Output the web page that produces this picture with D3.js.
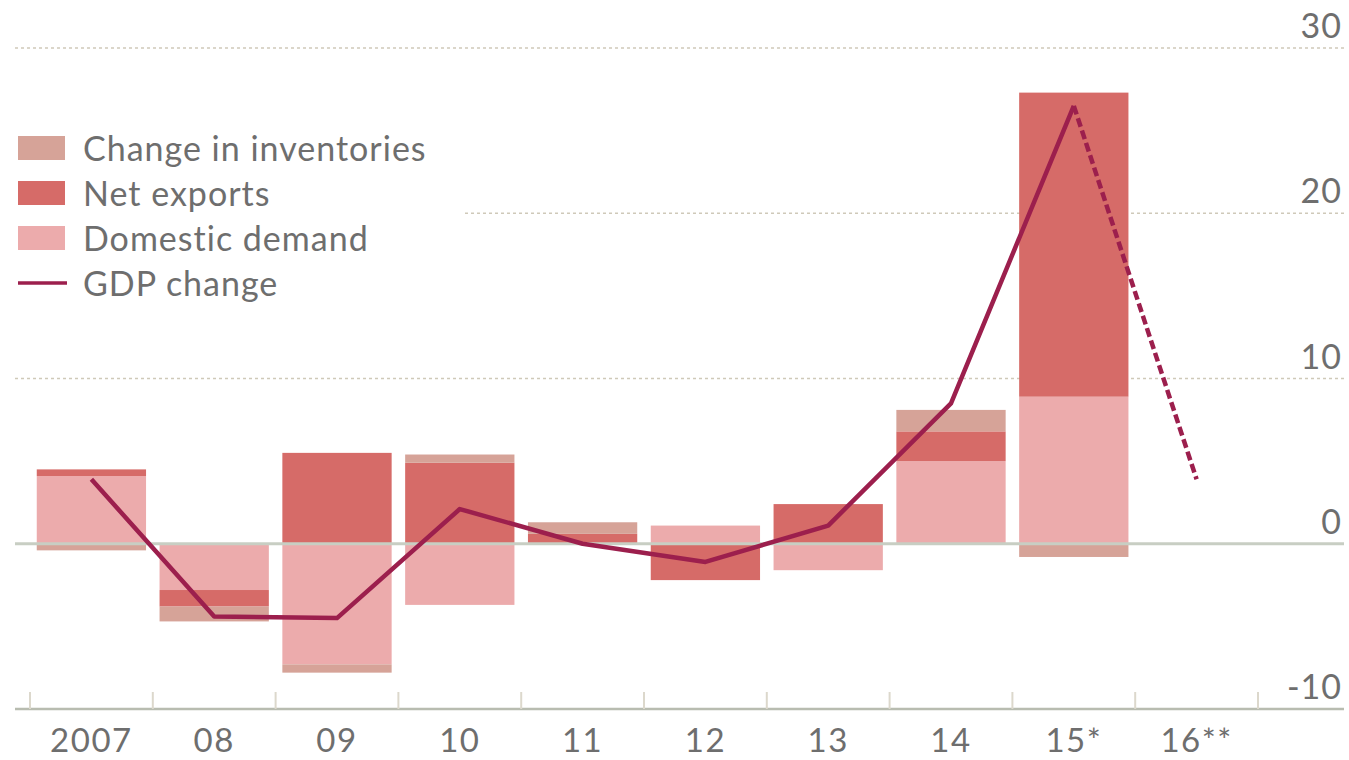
<!DOCTYPE html>
<html>
<head>
<meta charset="utf-8">
<script src="https://cdn.jsdelivr.net/npm/d3@7"></script>
<style>
  body { margin: 0; background: #fff; }
  svg text { font-family: Lato, "Open Sans", sans-serif; fill: #6e6e6e; }
</style>
</head>
<body>
<svg id="chart"></svg>
<script>
// data (% change)
var years = ["2007", "08", "09", "10", "11", "12", "13", "14", "15*", "16**"];
var domesticDemand = [4.1, -2.8, -7.3, -3.7, 0, 1.1, -1.6, 5.0, 8.9, null];
var netExports = [0.4, -1.0, 5.5, 4.9, 0.6, -2.2, 2.4, 1.8, 18.4, null];
var inventories = [-0.4, -0.9, -0.5, 0.5, 0.7, 0, 0, 1.3, -0.8, null];
var gdpChange = [3.9, -4.4, -4.5, 2.1, 0.0, -1.1, 1.1, 8.5, 26.5, 3.9];
var yTicks = [-10, 0, 10, 20, 30];

var series = [
    {name: "Domestic demand", values: domesticDemand, color: "#ecabac"},
    {name: "Net exports", values: netExports, color: "#d66b68"},
    {name: "Change in inventories", values: inventories, color: "#d6a398"}
];

var svgWidth = 1349, svgHeight = 760;
var svg = d3.select('#chart')
    .attr('width', svgWidth)
    .attr('height', svgHeight);

var x = d3.scaleBand()
    .domain(years)
    .range([30, 1258])
    .paddingInner(0.11)
    .paddingOuter(0.055);

var y = d3.scaleLinear()
    .domain([-10, 30])
    .range([709, 48]);

// dotted gridlines (the 20 line stops short of the legend)
svg.selectAll('line.grid')
    .data([10, 20, 30])
    .enter()
    .append('line')
    .attr('class', 'grid')
    .attr('x1', function(d) { return d == 20 ? 465 : 15; })
    .attr('x2', 1344)
    .attr('y1', function(d) { return y(d); })
    .attr('y2', function(d) { return y(d); })
    .attr('stroke', '#cfc9b9')
    .attr('stroke-width', 1.5)
    .attr('stroke-dasharray', '3,3');

// y labels on the right, sitting above their lines
svg.selectAll('text.ylab')
    .data(yTicks)
    .enter()
    .append('text')
    .attr('class', 'ylab')
    .attr('x', 1342)
    .attr('y', function(d) { return y(d) - 10; })
    .attr('text-anchor', 'end')
    .style('font-size', '34px')
    .style('letter-spacing', '1px')
    .text(function(d) { return d; });

// diverging stack: positives and negatives pile up separately
var posBase = years.map(function() { return 0; });
var negBase = years.map(function() { return 0; });
series.forEach(function(s) {
    var rows = [];
    s.values.forEach(function(v, i) {
        if (v == null || v == 0) return;
        var y0, y1;
        if (v > 0) { y0 = posBase[i]; y1 = y0 + v; posBase[i] = y1; }
        else { y0 = negBase[i]; y1 = y0 + v; negBase[i] = y1; }
        rows.push({year: years[i], y0: y0, y1: y1});
    });
    svg.append('g')
        .selectAll('rect')
        .data(rows)
        .enter()
        .append('rect')
        .attr('x', function(d) { return x(d.year); })
        .attr('width', x.bandwidth())
        .attr('y', function(d) { return y(Math.max(d.y0, d.y1)); })
        .attr('height', function(d) { return Math.abs(y(d.y0) - y(d.y1)); })
        .attr('fill', s.color);
});

// zero line
svg.append('line')
    .attr('x1', 15).attr('x2', 1344)
    .attr('y1', y(0)).attr('y2', y(0))
    .attr('stroke', '#c8cec3')
    .attr('stroke-width', 3);

// bottom axis with ticks between the years
var gap = x.step() * x.paddingInner() / 2;
var tickXs = years.map(function(d) { return x(d) - gap; });
tickXs.push(x(years[years.length - 1]) + x.bandwidth() + gap);

svg.append('line')
    .attr('x1', 15).attr('x2', 1344)
    .attr('y1', y(-10)).attr('y2', y(-10))
    .attr('stroke', '#b8bcb0')
    .attr('stroke-width', 2.5);

svg.selectAll('line.tick')
    .data(tickXs)
    .enter()
    .append('line')
    .attr('class', 'tick')
    .attr('x1', function(d) { return d; })
    .attr('x2', function(d) { return d; })
    .attr('y1', y(-10) - 17)
    .attr('y2', y(-10))
    .attr('stroke', '#dcd8cc')
    .attr('stroke-width', 2);

svg.selectAll('text.xlab')
    .data(years)
    .enter()
    .append('text')
    .attr('class', 'xlab')
    .attr('x', function(d) { return x(d) + x.bandwidth() / 2; })
    .attr('y', 752)
    .attr('text-anchor', 'middle')
    .style('font-size', '33px')
    .style('letter-spacing', '1.5px')
    .text(function(d) { return d; });

// GDP line: solid to 2015, dashed forecast to 2016
var pts = years.map(function(d, i) { return [x(d) + x.bandwidth() / 2, y(gdpChange[i])]; });
var line = d3.line();
svg.append('path')
    .attr('d', line(pts.slice(0, 9)))
    .attr('fill', 'none')
    .attr('stroke', '#9c1f4d')
    .attr('stroke-width', 4.5)
    .attr('stroke-linejoin', 'round');
svg.append('path')
    .attr('d', line(pts.slice(8)))
    .attr('fill', 'none')
    .attr('stroke', '#9c1f4d')
    .attr('stroke-width', 4.5)
    .attr('stroke-dasharray', '9,4');

// legend
var legend = [
    {name: "Change in inventories", color: "#d6a398"},
    {name: "Net exports", color: "#d66b68"},
    {name: "Domestic demand", color: "#ecabac"},
    {name: "GDP change", color: "#9c1f4d", line: true}
];
var lg = svg.selectAll('g.legend')
    .data(legend)
    .enter()
    .append('g')
    .attr('class', 'legend')
    .attr('transform', function(d, i) { return 'translate(18,' + (148 + i * 45) + ')'; });
lg.filter(function(d) { return !d.line; })
    .append('rect')
    .attr('x', 0).attr('y', -12)
    .attr('width', 47).attr('height', 24)
    .attr('fill', function(d) { return d.color; });
lg.filter(function(d) { return d.line; })
    .append('line')
    .attr('x1', 0).attr('x2', 49)
    .attr('y1', 0).attr('y2', 0)
    .attr('stroke', function(d) { return d.color; })
    .attr('stroke-width', 3.5);
lg.append('text')
    .attr('x', 65)
    .attr('y', 13)
    .style('font-size', '34px')
    .style('letter-spacing', '1px')
    .text(function(d) { return d.name; });
</script>
</body>
</html>
